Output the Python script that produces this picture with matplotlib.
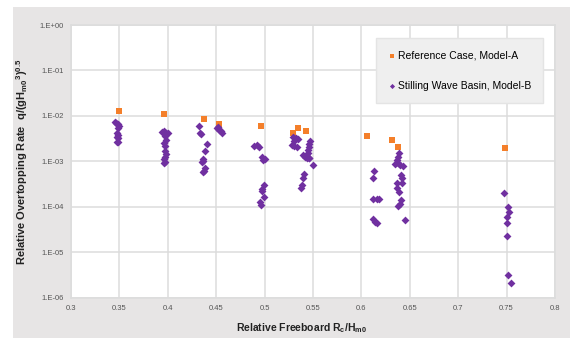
import numpy as np
import matplotlib.pyplot as plt
from matplotlib.patches import Rectangle
from matplotlib.ticker import FixedLocator, FixedFormatter

plt.rcParams['font.family'] = ['Liberation Sans', 'DejaVu Sans']
plt.rcParams['mathtext.default'] = 'regular'

# Reference Case, Model-A
ref_x = [0.350, 0.396, 0.437, 0.4526, 0.496, 0.5297, 0.5342, 0.5428, 0.6055, 0.6316, 0.638, 0.748]
ref_q = [1.3e-2, 1.1e-2, 8.6e-3, 6.6e-3, 6.05e-3, 4.3e-3, 5.4e-3, 4.7e-3, 3.7e-3, 3.0e-3, 2.1e-3, 2.0e-3]

# Stilling Wave Basin, Model-B
swb_x = [
    0.345, 0.3468, 0.3482, 0.3493, 0.349, 0.3475, 0.349, 0.3475, 0.3485, 0.3488, 0.3478,
    0.3943, 0.396, 0.398, 0.3999, 0.397, 0.3977, 0.3963, 0.3974, 0.397, 0.3977, 0.3973, 0.3963, 0.3974, 0.396,
    0.432, 0.433, 0.434, 0.440, 0.438, 0.436, 0.4365, 0.435, 0.438, 0.4373, 0.4367,
    0.4516, 0.4532, 0.455, 0.4563, 0.4505,
    0.489, 0.4918, 0.4947, 0.497, 0.4987, 0.5004, 0.4994, 0.4978, 0.497, 0.4994, 0.4953, 0.4963,
    0.5297, 0.5324, 0.5342, 0.5307, 0.528, 0.5304, 0.5331, 0.5469, 0.5462, 0.5459, 0.5451, 0.5451,
    0.540, 0.5417, 0.5434, 0.5462, 0.5462, 0.5497, 0.5410, 0.5397, 0.5386, 0.5376,
    0.6392, 0.6381, 0.6365, 0.6347, 0.6375, 0.6399, 0.6433, 0.6133, 0.6123, 0.6409, 0.6423,
    0.6365, 0.6423, 0.6365, 0.6392, 0.6409, 0.6399, 0.6381, 0.6123, 0.6158, 0.6185, 0.6123, 0.614, 0.6165, 0.645,
    0.7476, 0.7511, 0.7525, 0.7507, 0.7507, 0.7504, 0.7518, 0.7542,
]
swb_q = [
    7.2e-3, 7.0e-3, 6.6e-3, 6.0e-3, 5.3e-3, 4.2e-3, 3.8e-3, 3.5e-3, 3.2e-3, 2.7e-3, 2.6e-3,
    4.5e-3, 4.7e-3, 4.2e-3, 4.2e-3, 3.6e-3, 2.9e-3, 2.5e-3, 2.2e-3, 1.7e-3, 1.44e-3, 1.26e-3, 1.1e-3, 9.6e-4, 9.3e-4,
    6.05e-3, 4.2e-3, 3.9e-3, 2.4e-3, 1.7e-3, 1.12e-3, 1.03e-3, 9.5e-4, 7.0e-4, 6.2e-4, 5.7e-4,
    5.6e-3, 5.0e-3, 4.7e-3, 4.3e-3, 5.3e-3,
    2.16e-3, 2.33e-3, 2.05e-3, 1.24e-3, 1.09e-3, 1.12e-3, 3.0e-4, 2.5e-4, 2.2e-4, 1.65e-4, 1.28e-4, 1.08e-4,
    3.47e-3, 3.3e-3, 3.13e-3, 2.83e-3, 2.27e-3, 2.16e-3, 2.09e-3, 2.79e-3, 2.39e-3, 2.02e-3, 1.77e-3, 1.54e-3,
    1.37e-3, 1.26e-3, 1.19e-3, 1.19e-3, 1.16e-3, 8.5e-4, 5.2e-4, 4.4e-4, 3.0e-4, 2.6e-4,
    1.49e-3, 1.26e-3, 1.06e-3, 8.7e-4, 9.0e-4, 8.2e-4, 7.8e-4, 6.2e-4, 4.4e-4, 5.0e-4, 4.2e-4,
    3.36e-4, 3.26e-4, 2.53e-4, 2.13e-4, 1.4e-4, 1.18e-4, 1.03e-4, 1.45e-4, 1.45e-4, 1.45e-4, 5.5e-5, 4.6e-5, 4.4e-5, 5.2e-5,
    2.02e-4, 9.7e-5, 7.6e-5, 6.0e-5, 4.4e-5, 2.25e-5, 3.2e-6, 2.1e-6,
]

x_ticks = [0.3, 0.35, 0.4, 0.45, 0.5, 0.55, 0.6, 0.65, 0.7, 0.75, 0.8]
x_labels = ['0.3', '0.35', '0.4', '0.45', '0.5', '0.55', '0.6', '0.65', '0.7', '0.75', '0.8']
y_ticks = [1e-6, 1e-5, 1e-4, 1e-3, 1e-2, 1e-1, 1e0]
y_labels = ['1.E-06', '1.E-05', '1.E-04', '1.E-03', '1.E-02', '1.E-01', '1.E+00']

fig = plt.figure(figsize=(5.72, 3.38), dpi=100, facecolor='white')
# grey panel behind the chart
fig.patches.append(Rectangle((13 / 572, 0), 557 / 572, 331 / 338, transform=fig.transFigure,
                             facecolor='#e7e5e5', edgecolor='none', zorder=-10))

ax = fig.add_axes([71 / 572, 1 - 297.7 / 338, 484 / 572, 272.7 / 338])
ax.set_facecolor('white')
ax.set_yscale('log')
ax.set_xlim(0.3, 0.8)
ax.set_ylim(1e-6, 1e0)

ax.xaxis.set_major_locator(FixedLocator(x_ticks))
ax.xaxis.set_major_formatter(FixedFormatter(x_labels))
ax.yaxis.set_major_locator(FixedLocator(y_ticks))
ax.yaxis.set_major_formatter(FixedFormatter(y_labels))
ax.yaxis.set_minor_locator(FixedLocator([]))
ax.tick_params(length=0, labelsize=5.5, labelcolor='#555555', pad=5)
ax.grid(True, color='#dcdcdc', linewidth=1.1)
ax.set_axisbelow(True)
for s in ax.spines.values():
    s.set_color('#dcdcdc')
    s.set_linewidth(1.1)

ax.scatter(ref_x, ref_q, marker='s', s=22, color='#f47f2a', linewidths=0,
           label='Reference Case, Model-A', zorder=3)
ax.scatter(swb_x, swb_q, marker='D', s=16, color='#7030a0', linewidths=0,
           label='Stilling Wave Basin, Model-B', zorder=4)

leg = ax.legend(loc='upper right', bbox_to_anchor=(543.3 / 572, 1 - 38.3 / 338),
                bbox_transform=fig.transFigure, fontsize=7.5, frameon=True,
                fancybox=False, labelspacing=1.9, handletextpad=0.1,
                handlelength=0.8, borderpad=1.2, borderaxespad=0, markerscale=0.65)
leg.get_frame().set_facecolor('#efefef')
leg.get_frame().set_edgecolor('#e4e4e4')
leg.get_frame().set_alpha(1)

ax.set_xlabel(r'Relative Freeboard R$_c$/H$_{m0}$', fontsize=7.5, fontweight='bold', color='#222222')
ax.xaxis.set_label_coords(0.476, -0.085)
ax.set_ylabel(r'Relative Overtopping Rate  q/(gH$_{m0}$$^3$)$^{0.5}$', fontsize=8, fontweight='bold',
              color='#222222')
ax.yaxis.set_label_coords(-0.085, 0.5)

fig.savefig('out.png', dpi=100)
